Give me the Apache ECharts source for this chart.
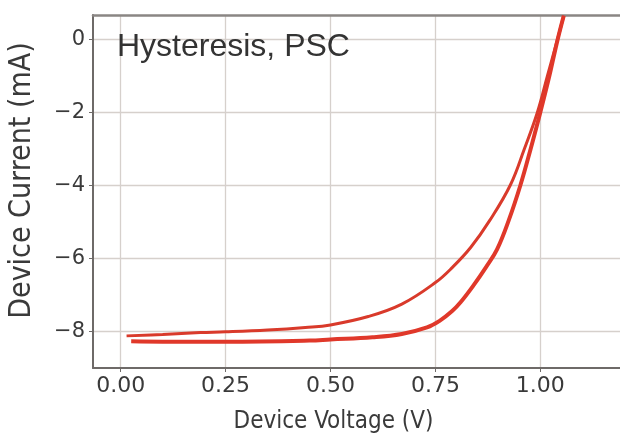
<!DOCTYPE html>
<html lang="en">
<head>
    <meta charset="UTF-8">
    <title>Hysteresis, PSC</title>
    <script src="https://cdn.jsdelivr.net/npm/echarts@6/dist/echarts.min.js"></script>
</head>
<body style="margin:0;background:#fff;">
<div id="mybox" style="height: 440px;width: 620px;"></div>
<script>
    // reverse scan (upper branch)
    var upperV = [0.014, 0.10, 0.19, 0.25, 0.35, 0.44, 0.50, 0.59, 0.67, 0.75, 0.79, 0.834, 0.88, 0.929, 0.962, 0.993, 1.017, 1.041, 1.056];
    var upperI = [-8.12, -8.08, -8.03, -8.01, -7.96, -7.89, -7.82, -7.59, -7.25, -6.66, -6.25, -5.70, -4.95, -3.98, -3.00, -2.00, -1.00, 0.00, 0.65];
    // forward scan (lower branch)
    var lowerV = [0.025, 0.10, 0.25, 0.45, 0.50, 0.60, 0.67, 0.73, 0.76, 0.79, 0.81, 0.84, 0.87, 0.897, 0.925, 0.953, 0.977, 1.000, 1.020, 1.041, 1.056];
    var lowerI = [-8.27, -8.28, -8.28, -8.25, -8.22, -8.16, -8.07, -7.89, -7.71, -7.44, -7.20, -6.75, -6.25, -5.75, -4.95, -3.98, -3.00, -2.00, -1.08, -0.02, 0.65];

    var xTicks = [0, 0.25, 0.5, 0.75, 1.0];
    var yTicks = [-8, -6, -4, -2, 0];

    function pairs(xs, ys) {
        var out = [];
        for (var i = 0; i < xs.length; i++) out.push([xs[i], ys[i]]);
        return out;
    }

    var fontFam = 'DejaVu Sans';
    var nameFam = '"Liberation Sans Narrow", "DejaVu Sans Condensed", "Liberation Sans", sans-serif';
    var axisCol = '#6e6a68';
    var gridCol = '#d6d0cc';
    var mychart = echarts.init(document.getElementById('mybox'));
    mychart.setOption({
        animation: false,
        backgroundColor: '#fff',
        title: {
            text: 'Hysteresis, PSC',
            left: 112,
            top: 26,
            textStyle: {fontFamily: '"Liberation Sans", Arial, sans-serif', fontSize: 32, fontWeight: 'normal', color: '#333'}
        },
        grid: {left: 93, top: 15, bottom: 72, right: 0, outerBoundsMode: 'none', containLabel: false},
        xAxis: [{
            type: 'value',
            min: -0.066,
            max: 1.19,
            name: 'Device Voltage (V)',
            nameLocation: 'middle',
            nameGap: 42,
            nameTextStyle: {fontFamily: nameFam, fontSize: 24, color: '#3a3a3a', padding: [0, 46, 0, 0]},
            axisLine: {onZero: false, lineStyle: {color: axisCol, width: 2}},
            axisTick: {show: true, length: 4, customValues: xTicks, lineStyle: {color: axisCol}},
            axisLabel: {
                fontFamily: fontFam, fontSize: 22, color: '#3a3a3a', margin: 7,
                customValues: xTicks,
                formatter: function (v) { return v.toFixed(2); }
            },
            splitLine: {show: true, lineStyle: {color: gridCol, width: 1.3}}
        }, {
            type: 'value',
            position: 'top',
            min: -0.066,
            max: 1.19,
            axisLine: {show: true, onZero: false, lineStyle: {color: '#8a8684', width: 2.5}},
            axisTick: {show: false},
            axisLabel: {show: false},
            splitLine: {show: false}
        }],
        yAxis: {
            type: 'value',
            min: -9,
            max: 0.67,
            name: 'Device Current (mA)',
            nameLocation: 'middle',
            nameGap: 56,
            nameRotate: 90,
            nameTextStyle: {fontFamily: nameFam, fontSize: 30, color: '#3a3a3a', padding: [0, 0, 0, 22]},
            axisLine: {show: true, onZero: false, lineStyle: {color: axisCol, width: 2}},
            axisTick: {show: true, length: 4, customValues: yTicks, lineStyle: {color: axisCol}},
            axisLabel: {
                fontFamily: fontFam, fontSize: 21, color: '#3a3a3a', margin: 8,
                customValues: yTicks,
                formatter: function (v) {
                    return v < 0 ? '\u2212' + Math.abs(v) : String(v);
                }
            },
            splitLine: {show: true, lineStyle: {color: gridCol, width: 1.3}}
        },
        series: [{
            name: 'reverse',
            type: 'line',
            smooth: 0.4,
            showSymbol: false,
            data: pairs(upperV, upperI),
            lineStyle: {color: '#d93a2b', width: 3}
        }, {
            name: 'forward',
            type: 'line',
            smooth: 0.4,
            showSymbol: false,
            data: pairs(lowerV, lowerI),
            lineStyle: {color: '#e0382a', width: 4}
        }]
    });
</script>
</body>
</html>
